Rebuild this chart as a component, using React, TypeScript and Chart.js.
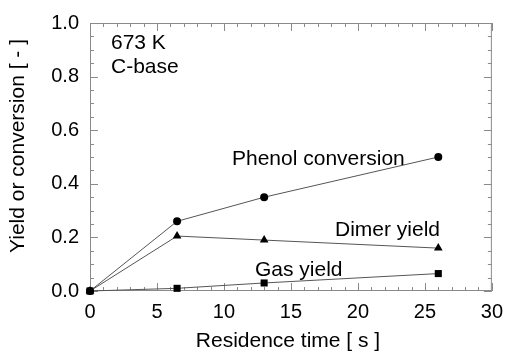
import React, { useEffect, useRef } from "react";
import { Chart, registerables } from "chart.js";

Chart.register(...registerables);

const residenceTime = [0, 6.5, 13, 26];
const phenolConversion = [0, 0.26, 0.35, 0.5];
const dimerYield = [0, 0.205, 0.19, 0.16];
const gasYield = [0, 0.01, 0.03, 0.065];
const xTicks = [0, 5, 10, 15, 20, 25, 30];
const yTicks = [0, 0.2, 0.4, 0.6, 0.8, 1.0];

const FONT = "'Liberation Sans', Arial, Helvetica, sans-serif";
const LINE = "#555";
const FRAME = "#8a8a8a";

const toPts = (ys: number[]) => residenceTime.map((x, i) => ({ x, y: ys[i] }));

const decor = {
  id: "decor",
  beforeDatasetsDraw(chart: any) {
    const { ctx, chartArea: a, scales } = chart;
    const xs = scales.x, ys = scales.y;
    ctx.save();
    ctx.strokeStyle = FRAME;
    ctx.lineWidth = 1;
    ctx.strokeRect(a.left + 0.5, a.top + 0.5, a.right - a.left - 1, a.bottom - a.top - 1);
    ctx.beginPath();
    for (let v = 0; v <= 30; v += 1) {
      const px = Math.round(xs.getPixelForValue(v)) + 0.5;
      const len = v % 5 === 0 ? 8 : 4;
      ctx.moveTo(px, a.bottom);
      ctx.lineTo(px, a.bottom - len);
      ctx.moveTo(px, a.top);
      ctx.lineTo(px, a.top + len);
    }
    for (let k = 0; k <= 20; k++) {
      const v = k * 0.05;
      const py = Math.round(ys.getPixelForValue(v)) + 0.5;
      const len = k % 4 === 0 ? 8 : 4;
      ctx.moveTo(a.left, py);
      ctx.lineTo(a.left + len, py);
      ctx.moveTo(a.right, py);
      ctx.lineTo(a.right - len, py);
    }
    ctx.stroke();
    ctx.restore();
  },
  afterDraw(chart: any) {
    const { ctx } = chart;
    ctx.save();
    ctx.fillStyle = "#000";
    ctx.font = `21px ${FONT}`;
    ctx.textBaseline = "middle";
    ctx.textAlign = "left";
    ctx.fillText("673 K", 111, 43);
    ctx.fillText("C-base", 111, 67);
    ctx.fillText("Phenol conversion", 232, 159);
    ctx.fillText("Dimer yield", 335, 230);
    ctx.fillText("Gas yield", 255, 270);

    ctx.textAlign = "center";
    ctx.fillText("Residence time [ s ]", 288, 341);
    ctx.translate(18, 146);
    ctx.rotate(-Math.PI / 2);
    ctx.fillText("Yield or conversion [ - ]", 0, 0);
    ctx.restore();
  },
};

export default function App() {
  const ref = useRef<HTMLCanvasElement | null>(null);
  useEffect(() => {
    if (!ref.current) return;
    const base = { borderColor: LINE, backgroundColor: "#000", borderWidth: 1, showLine: true, pointBorderWidth: 0, clip: false as any };
    const chart = new Chart(ref.current, {
      type: "scatter",
      data: {
        datasets: [
          { ...base, label: "Phenol conversion", data: toPts(phenolConversion), pointStyle: "circle", pointRadius: 4 },
          { ...base, label: "Dimer yield", data: toPts(dimerYield), pointStyle: "triangle", pointRadius: 5 },
          { ...base, label: "Gas yield", data: toPts(gasYield), pointStyle: "rect", pointRadius: 5 },
        ],
      },
      options: {
        animation: false,
        responsive: false,
        maintainAspectRatio: false,
        layout: { padding: { top: 18, right: 13, left: 0, bottom: 0 } },
        plugins: { legend: { display: false }, tooltip: { enabled: false } },
        scales: {
          x: {
            type: "linear",
            min: 0,
            max: 30,
            afterBuildTicks: (s: any) => { s.ticks = xTicks.map((v) => ({ value: v })); },
            afterFit: (s: any) => { s.height = 63; },
            grid: { display: false, drawTicks: false },
            border: { display: false },
            ticks: { color: "#000", font: { family: FONT, size: 20 }, padding: 9, maxRotation: 0 },
          },
          y: {
            type: "linear",
            min: 0,
            max: 1,
            afterBuildTicks: (s: any) => { s.ticks = yTicks.map((v) => ({ value: v })); },
            afterFit: (s: any) => { s.width = 90; },
            grid: { display: false, drawTicks: false },
            border: { display: false },
            ticks: { color: "#000", font: { family: FONT, size: 20 }, padding: 11, callback: (v: any) => Number(v).toFixed(1) },
          },
        },
      },
      plugins: [decor],
    });
    return () => chart.destroy();
  }, []);
  return (
    <div style={{ position: "fixed", left: 0, top: 0, width: 512, height: 354, background: "#fff" }}>
      <canvas ref={ref} width={512} height={354} />
    </div>
  );
}
